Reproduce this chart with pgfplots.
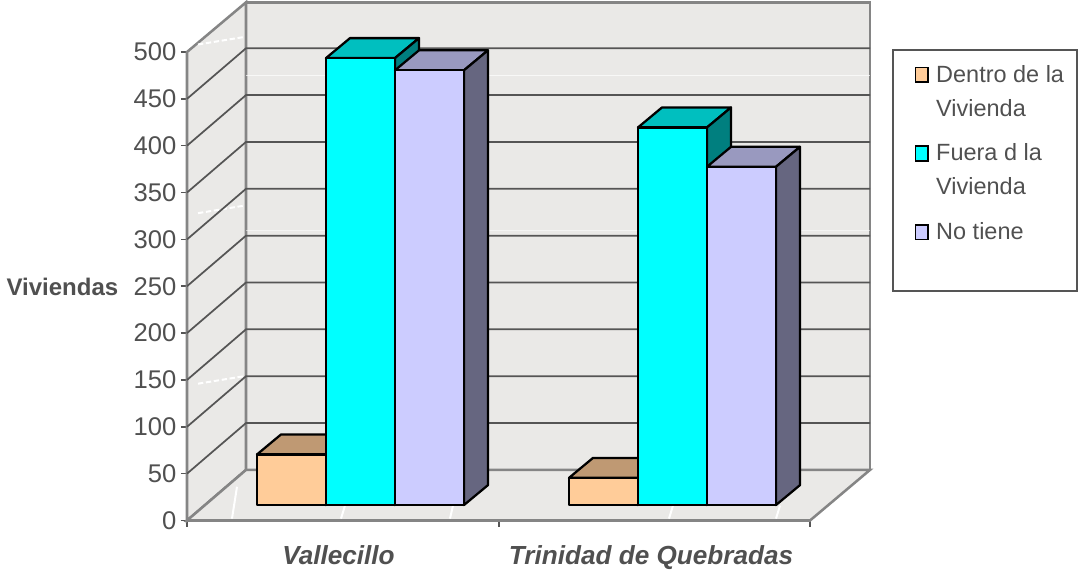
\documentclass[border=0pt]{standalone}
\usepackage{fontspec}
\setmainfont{Liberation Sans}
\usepackage{pgfplots}
\pgfplotsset{compat=1.18}
\definecolor{txt}{HTML}{505050}
\definecolor{axl}{HTML}{555555}
\definecolor{frame}{HTML}{858585}
\definecolor{wallc}{HTML}{EAE9E7}
\definecolor{pf}{HTML}{FFCC99}\definecolor{pt}{HTML}{BF9973}
\definecolor{cf}{HTML}{00FFFF}\definecolor{ct}{HTML}{00BFBF}\definecolor{cs}{HTML}{007F7F}
\definecolor{lf}{HTML}{CCCCFF}\definecolor{lt}{HTML}{9999BF}\definecolor{ls}{HTML}{666680}
% x0, x1, value, front, top, side  (base of the bars at 16.5, depth 24 px / 21.3 units)
\newcommand{\threeDbar}[6]{%
  \addplot[forget plot,fill=#5,draw=black,line width=1.7pt,line join=round] coordinates {(#1,16.5+#3) (#1+24,37.8+#3) (#2+24,37.8+#3) (#2,16.5+#3)} --cycle;
  \addplot[forget plot,fill=#6,draw=black,line width=1.7pt,line join=round] coordinates {(#2,16.5) (#2+24,37.8) (#2+24,37.8+#3) (#2,16.5+#3)} --cycle;
  \addplot[forget plot,fill=#4,draw=black,line width=1.7pt,line join=round] coordinates {(#1,16.5) (#2,16.5) (#2,16.5+#3) (#1,16.5+#3)} --cycle;
}
\pgfplotsset{sqleg/.style={legend image code/.code={\draw[##1,draw=black,line width=1.2pt] (0pt,#1-5.5pt) rectangle (9.5pt,#1+5.5pt);\path (13.3pt,0pt);}}}
\begin{document}
\begin{tikzpicture}
\useasboundingbox (-140.25pt,-37.875pt) rectangle (668.25pt,390.375pt);
\begin{axis}[
  at={(0pt,0pt)},anchor=south west,
  scale only axis,width=467.25pt,height=351.375pt,
  xmin=187,xmax=810,ymin=0,ymax=500,clip=false,
  axis lines=left,axis line style={-,draw=axl,line width=1.5pt},
  tick align=outside,tick style={draw=axl,line width=1.2pt},
  major tick length=4.5pt,
  ytick={0,50,...,500},
  xtick={187,499,810},xticklabels={},
  extra x ticks={338.5,651},
  extra x tick labels={Vallecillo,Trinidad de Quebradas},
  extra x tick style={major tick length=0pt,tick label style={font=\fontsize{19.6}{23}\selectfont\bfseries\itshape,text=txt,yshift=-15pt}},
  yticklabel style={font=\fontsize{19.2}{23}\selectfont,text=txt},
  /pgf/number format/assume math mode=true,
  ylabel={Viviendas},
  ylabel style={rotate=-90,at={(axis description cs:-0.2,0.498)},anchor=center,font=\fontsize{18}{21}\selectfont\bfseries,text=txt},
  legend style={at={(axis cs:914.5,489)},anchor=north west,draw=none,fill=none,
    font=\fontsize{17.6}{25.5}\selectfont,text=txt,
    cells={align=left,anchor=west},row sep=15.3pt,inner sep=0pt},
]
% walls and floor
\addplot[forget plot,fill=wallc,draw=frame,line width=1.9pt] coordinates {(246,54) (246,553) (870,553) (870,54)} --cycle;
\addplot[forget plot,fill=wallc,draw=frame,line width=1.9pt] coordinates {(187,0) (187,500) (246,553) (246,54)} --cycle;
\addplot[forget plot,fill=wallc,draw=frame,line width=1.9pt] coordinates {(187,0) (810,0) (870,54) (246,54)} --cycle;
% pale streaks of the wall and floor texture
\addplot[forget plot,draw=white,line width=0.5pt,opacity=0.7] coordinates {(246,475.5) (870,475.5)};
\addplot[forget plot,draw=white,line width=0.5pt,opacity=0.5] coordinates {(246,310) (870,310)};
\addplot[forget plot,draw=white,line width=1.5pt] coordinates {(237,36) (232,2)};
\addplot[forget plot,draw=white,line width=1.5pt] coordinates {(345,16) (341,2)};
\addplot[forget plot,draw=white,line width=1.5pt] coordinates {(453,16) (450,2)};
\addplot[forget plot,draw=white,line width=1.5pt] coordinates {(673,16) (669,2)};
\addplot[forget plot,draw=white,line width=1.5pt] coordinates {(780,16) (776,2)};
\addplot[forget plot,draw=white,line width=1.5pt,dash pattern=on 4pt off 2pt] coordinates {(198,508) (244,516)};
\addplot[forget plot,draw=white,line width=1.5pt,dash pattern=on 4pt off 2pt] coordinates {(198,328) (244,336)};
\addplot[forget plot,draw=white,line width=1.5pt,dash pattern=on 4pt off 2pt] coordinates {(198,146) (244,154)};
% grid
\pgfplotsinvokeforeach{50,100,...,450}{
  \addplot[forget plot,draw=axl,line width=1.3pt] coordinates {(187,#1) (246,#1+54) (870,#1+54)};
}
% bars
\threeDbar{257}{326}{54}{pf}{pt}{pt}
\threeDbar{326}{395}{477}{cf}{ct}{cs}
\threeDbar{395}{464}{464}{lf}{lt}{ls}
\threeDbar{569}{638}{29}{pf}{pt}{pt}
\threeDbar{638}{707}{403}{cf}{ct}{cs}
\threeDbar{707}{776}{361}{lf}{lt}{ls}
% legend box
\addplot[forget plot,draw=axl,line width=1.6pt] coordinates {(893,502) (1077,502) (1077,245) (893,245)} --cycle;
\addlegendimage{sqleg=12.75pt,fill=pf}\addlegendentry{Dentro de la\\Vivienda}
\addlegendimage{sqleg=12.75pt,fill=cf}\addlegendentry{Fuera d la\\Vivienda}
\addlegendimage{sqleg=0pt,fill=lf}\addlegendentry{No tiene}
\end{axis}
\end{tikzpicture}
\end{document}
